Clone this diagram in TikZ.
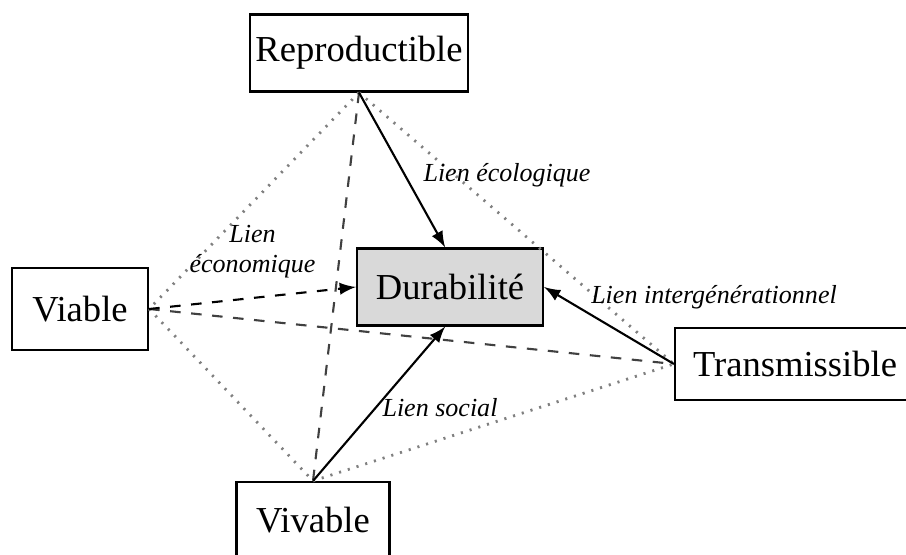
\documentclass[tikz,border=0pt]{standalone}
\usepackage{fontspec}
\setmainfont{Liberation Serif}
\usepackage{tikz}
\definecolor{grisfond}{RGB}{217,217,217}
\tikzset{every path/.style={semithick}}
\tikzset{
  boite/.style={draw,inner sep=0pt,font=\fontsize{10.4}{12}\selectfont},
  legende/.style={font=\fontsize{7.4}{8.6}\selectfont\itshape,align=center},
  cote/.style={gray,dotted,thick},
  croix/.style={black!75,dashed},
}

\begin{document}
\begin{tikzpicture}[x=0.01cm,y=-0.01cm,>=latex]
    \useasboundingbox (0,0) rectangle (906,555);

    % les quatre qualites et la durabilite
    \node[boite,minimum width=2.18cm,minimum height=0.77cm] (repro) at (359,53) {Reproductible};
    \node[boite,minimum width=1.36cm,minimum height=0.82cm] (viab) at (80,309) {Viable};
    \node[boite,minimum width=2.4cm,minimum height=0.72cm] (trans) at (795,364) {Transmissible};
    \node[boite,minimum width=1.53cm,minimum height=0.76cm] (viv) at (313,520) {Vivable};
    \node[boite,fill=grisfond,minimum width=1.86cm,minimum height=0.77cm] (dura) at (450,287) {Durabilité};

    % losange en pointilles
    \draw[cote] (repro.south) -- (viab.east);
    \draw[cote] (repro.south) -- (trans.west);
    \draw[cote] (viab.east) -- (viv.north);
    \draw[cote] (viv.north) -- (trans.west);

    % diagonales en tirets
    \draw[croix] (repro.south) -- (viv.north);
    \draw[croix] (viab.east) -- (trans.west);

    % les liens vers la durabilite
    \draw[->] (repro.south) -- (dura.97);
    \draw[->,dashed] (viab.east) -- node[legende,above=2pt] {Lien\\économique} (dura.west);
    \draw[->] (trans.west) -- (dura.east);
    \draw[->] (viv.north) -- (dura.-97);

    \node[legende] (lEco) at (507,175) {Lien écologique};
    \node[legende] (lInter) at (714,297) {Lien intergénérationnel};
    \node[legende] (lSoc) at (440,408) {Lien social};
\end{tikzpicture}
\end{document}
